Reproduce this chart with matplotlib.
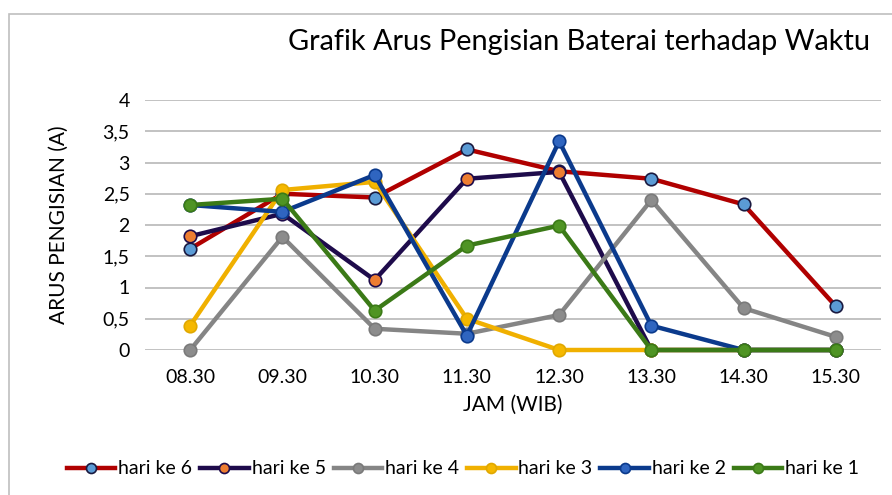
import matplotlib.pyplot as plt
from matplotlib.patches import Rectangle
from matplotlib.ticker import FuncFormatter

plt.rcParams['font.family'] = ['Lato', 'DejaVu Sans']

# data
jam = ['08.30', '09.30', '10.30', '11.30', '12.30', '13.30', '14.30', '15.30']
hari6 = [1.62, 2.50, 2.44, 3.21, 2.86, 2.74, 2.33, 0.70]
hari5 = [1.82, 2.18, 1.12, 2.74, 2.85, 0, 0, 0]
hari4 = [0, 1.81, 0.34, 0.26, 0.56, 2.40, 0.67, 0.21]
hari3 = [0.39, 2.56, 2.69, 0.50, 0, 0, 0, 0]
hari2 = [2.32, 2.21, 2.80, 0.23, 3.34, 0.39, 0, 0]
hari1 = [2.32, 2.42, 0.63, 1.67, 1.99, 0, 0, 0]

series = [
    ('hari ke 6', hari6, '#B00000', '#5B9BD5', '#1A1A40'),
    ('hari ke 5', hari5, '#1E0B4B', '#ED7D31', '#1E0B4B'),
    ('hari ke 4', hari4, '#858585', '#8C8C8C', '#7A7A7A'),
    ('hari ke 3', hari3, '#F0B000', '#F5B800', '#E0A800'),
    ('hari ke 2', hari2, '#0B3A8C', '#2F65C0', '#0B3A8C'),
    ('hari ke 1', hari1, '#3B7A17', '#4F9424', '#3B7A17'),
]

fig = plt.figure(figsize=(8.92, 4.95), dpi=100)
ax = fig.add_axes([145/892, 1-350/495, (881-145)/892, 250/495])

x = range(len(jam))
for nama, y, warna, isi, tepi in series:
    ax.plot(x, y, color=warna, lw=3.2, marker='o', ms=9,
            mfc=isi, mec=tepi, mew=1.2, label=nama, clip_on=False, zorder=3)

ax.set_ylim(0, 4)
ax.set_xlim(-0.49, 7.49)
ax.set_yticks([0, 0.5, 1, 1.5, 2, 2.5, 3, 3.5, 4])
ax.yaxis.set_major_formatter(FuncFormatter(lambda v, p: ('%g' % v).replace('.', ',')))
ax.set_xticks(list(x))
ax.set_xticklabels(jam)
ax.grid(axis='y', color='#BDBDBD', lw=1.3)
ax.set_axisbelow(True)
for s in ax.spines.values():
    s.set_visible(False)
ax.tick_params(length=0, labelsize=14, colors='black', pad=11)
ax.tick_params(axis='x', pad=14)

ax.set_ylabel('ARUS PENGISIAN (A)', fontsize=15, labelpad=24)
ax.set_xlabel('JAM (WIB)', fontsize=15, labelpad=6)

fig.text(870/892, 1-42/495, 'Grafik Arus Pengisian Baterai terhadap Waktu',
         fontsize=20.8, ha='right', va='center')

leg = fig.legend(loc='center', bbox_to_anchor=(463/892, 1-469/495), ncol=6,
                 frameon=False, fontsize=14, handlelength=2.5, markerscale=0.8,
                 handletextpad=0.15, columnspacing=0.4)

# frame around chart (Excel chart border)
fig.patches.append(Rectangle((9/892, -0.1), 1.2, 1-14/495+0.1,
                             transform=fig.transFigure, fill=False,
                             ec='#BFBFBF', lw=1.2))

fig.savefig('out.png', dpi=100)
